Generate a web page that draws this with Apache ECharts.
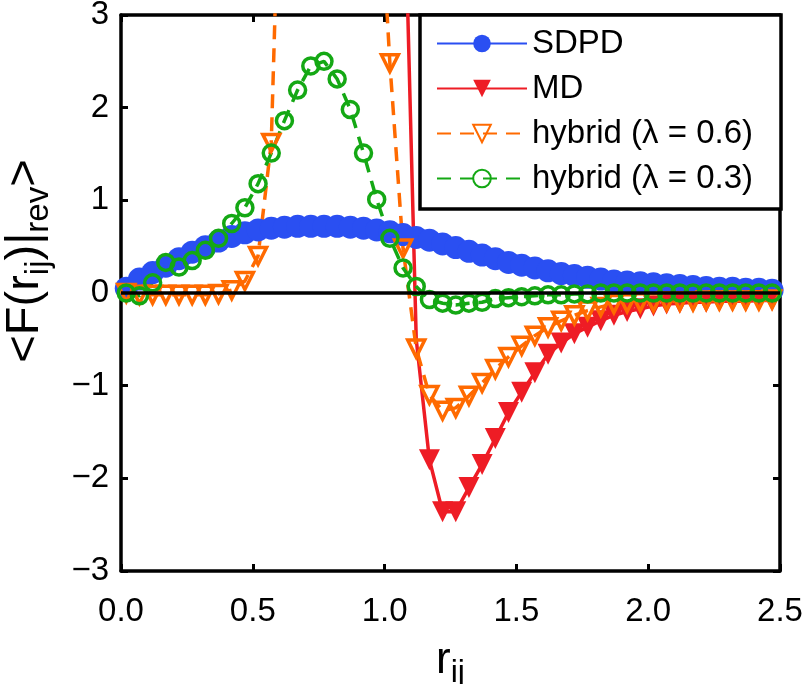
<!DOCTYPE html>
<html><head><meta charset="utf-8">
<script src="https://cdn.jsdelivr.net/npm/echarts@6/dist/echarts.min.js"></script>
<style>html,body{margin:0;padding:0;background:#fff}#c{width:805px;height:684px}</style>
</head><body><div id="c"></div>
<script>
const xs = [0.02,0.07,0.12,0.17,0.22,0.27,0.32,0.37,0.42,0.47,0.52,0.57,0.62,0.67,0.72,0.77,0.82,0.87,0.92,0.97,
            1.02,1.07,1.12,1.17,1.22,1.27,1.32,1.37,1.42,1.47,1.52,1.57,1.62,1.67,1.72,1.77,1.82,1.87,1.92,1.97,
            2.02,2.07,2.12,2.17,2.22,2.27,2.32,2.37,2.42,2.47];
const sdpd = [0.05,0.15,0.22,0.29,0.37,0.44,0.50,0.56,0.61,0.65,0.68,0.70,0.71,0.72,0.72,0.72,0.72,0.71,0.70,0.68,
              0.66,0.63,0.60,0.57,0.53,0.49,0.45,0.41,0.37,0.33,0.30,0.27,0.24,0.21,0.19,0.17,0.15,0.13,0.12,0.11,
              0.10,0.09,0.08,0.07,0.06,0.05,0.05,0.04,0.04,0.03];
const md = [null,null,null,null,null,null,null,null,null,null,null,null,null,null,null,null,null,null,null,null,
            null,5.0,-0.5,-1.80,-2.36,-2.36,-2.10,-1.85,-1.57,-1.29,-1.07,-0.86,-0.66,-0.54,-0.44,-0.37,-0.30,-0.24,-0.20,-0.17,
            -0.14,-0.12,-0.11,-0.10,-0.10,-0.09,-0.09,-0.09,-0.08,-0.08];
const mdHiddenMarker = [1.12];
const hyb06 = [0.0,-0.02,-0.02,-0.02,-0.02,-0.02,-0.02,-0.01,0.03,0.13,0.40,1.62,6.5,9.0,10.0,10.0,9.0,8.0,6.5,5.0,
               2.48,0.48,-0.60,-1.10,-1.27,-1.24,-1.11,-0.97,-0.82,-0.69,-0.57,-0.46,-0.37,-0.30,-0.24,-0.19,-0.15,-0.12,-0.11,-0.10,
               -0.10,-0.09,-0.09,-0.09,-0.08,-0.08,-0.08,-0.08,-0.08,-0.07];
const hyb03 = [0.0,-0.03,0.11,0.33,0.28,0.35,0.46,0.59,0.75,0.92,1.18,1.51,1.86,2.19,2.45,2.50,2.31,1.98,1.51,1.01,
               0.59,0.27,0.07,-0.07,-0.11,-0.13,-0.11,-0.10,-0.06,-0.05,-0.04,-0.03,-0.02,-0.02,-0.01,-0.01,0.0,0.0,0.0,0.0,
               0.0,0.0,0.0,0.0,0.0,0.0,0.0,0.0,0.0,0.0];
const seriesNames = ['SDPD','MD','hybrid (λ = 0.6)','hybrid (λ = 0.3)'];
const xTickLabels = ['0.0','0.5','1.0','1.5','2.0','2.5'];
const yTickLabels = ['−3','−2','−1','0','1','2','3'];

const FONT = "'Liberation Sans', Arial, Helvetica, sans-serif";
const C_BLUE = '#2a4ff2', C_RED = '#ee1c25', C_ORANGE = '#ff6a00', C_GREEN = '#14a814';

function pairs(arr) {
  const out = [];
  xs.forEach((x, i) => { if (arr[i] !== null) out.push([x, arr[i]]); });
  return out;
}
const mdData = pairs(md).map(p => mdHiddenMarker.includes(p[0]) ? {value: p, symbol: 'none'} : p);

const chart = echarts.init(document.getElementById('c'), null, {renderer: 'canvas'});
const axisLineStyle = {color: '#000', width: 3.5};
const tickStyle = {inside: true, length: 7, lineStyle: {color: '#000', width: 3}};
chart.setOption({
  animation: false,
  backgroundColor: '#fff',
  grid: {left: 121, right: 25, top: 15, bottom: 113, containLabel: false, outerBoundsMode: 'none'},
  legend: {
    orient: 'vertical', left: 420, top: 15,
    data: seriesNames,
    itemWidth: 90, itemHeight: 22, itemGap: 12,
    textStyle: {fontSize: 33, fontFamily: FONT, color: '#000'},
    borderColor: '#000', borderWidth: 3.5, borderRadius: 0,
    padding: [12, 28, 14, 16], backgroundColor: '#fff',
    selectedMode: false
  },
  xAxis: [{
    type: 'value', min: 0, max: 2.5, interval: 0.5, position: 'bottom',
    axisLine: {show: true, onZero: false, lineStyle: axisLineStyle},
    axisTick: tickStyle,
    splitLine: {show: false},
    axisLabel: {fontSize: 33, fontFamily: FONT, color: '#000', margin: 24,
      formatter: v => xTickLabels[Math.round(v / 0.5)]},
    name: 'r{sub|ij}', nameLocation: 'middle', nameGap: 52,
    nameTextStyle: {fontSize: 44, fontFamily: FONT, color: '#000', lineHeight: 56,
      rich: {sub: {fontSize: 32, fontFamily: FONT, color: '#000', verticalAlign: 'bottom', lineHeight: 20}}}
  }, {
    type: 'value', min: 0, max: 2.5, interval: 0.5, position: 'top',
    axisLine: {show: true, onZero: false, lineStyle: axisLineStyle},
    axisTick: tickStyle, axisLabel: {show: false}, splitLine: {show: false}
  }],
  yAxis: [{
    type: 'value', min: -3, max: 3, interval: 1, position: 'left',
    axisLine: {show: true, onZero: false, lineStyle: axisLineStyle},
    axisTick: tickStyle,
    splitLine: {show: false},
    axisLabel: {fontSize: 33, fontFamily: FONT, color: '#000', margin: 12,
      formatter: v => yTickLabels[Math.round(v) + 3]},
    name: '<F(r{sub|ij})|{sub|rev}>', nameLocation: 'middle', nameGap: 66, nameRotate: 90,
    nameTextStyle: {fontSize: 47, fontFamily: FONT, color: '#000', lineHeight: 60,
      padding: [0, 0, 0, 64],
      rich: {sub: {fontSize: 33, fontFamily: FONT, color: '#000', verticalAlign: 'bottom', lineHeight: 20}}}
  }, {
    type: 'value', min: -3, max: 3, interval: 1, position: 'right',
    axisLine: {show: true, onZero: false, lineStyle: axisLineStyle},
    axisTick: tickStyle, axisLabel: {show: false}, splitLine: {show: false}
  }],
  series: [{
    name: seriesNames[0], type: 'line', data: pairs(sdpd), clip: true,
    symbol: 'circle', symbolSize: 23,
    lineStyle: {color: C_BLUE, width: 3.5}, itemStyle: {color: C_BLUE}
  }, {
    name: seriesNames[1], type: 'line', data: mdData, clip: true,
    symbol: 'triangle', symbolRotate: 180, symbolSize: 21,
    lineStyle: {color: C_RED, width: 3.5}, itemStyle: {color: C_RED}
  }, {
    name: seriesNames[2], type: 'line', data: pairs(hyb06), clip: true,
    symbol: 'triangle', symbolRotate: 180, symbolSize: 17,
    lineStyle: {color: C_ORANGE, width: 3.5, type: [14, 9]},
    itemStyle: {color: 'rgba(0,0,0,0)', borderColor: C_ORANGE, borderWidth: 3.5}
  }, {
    name: seriesNames[3], type: 'line', data: pairs(hyb03), clip: true,
    symbol: 'circle', symbolSize: 16,
    lineStyle: {color: C_GREEN, width: 3.5, type: [14, 9]},
    itemStyle: {color: 'rgba(0,0,0,0)', borderColor: C_GREEN, borderWidth: 3.5},
    markLine: {silent: true, symbol: 'none', label: {show: false},
      lineStyle: {color: '#000', width: 3.5, type: 'solid'}, data: [{yAxis: 0}]}
  }]
});
</script></body></html>
